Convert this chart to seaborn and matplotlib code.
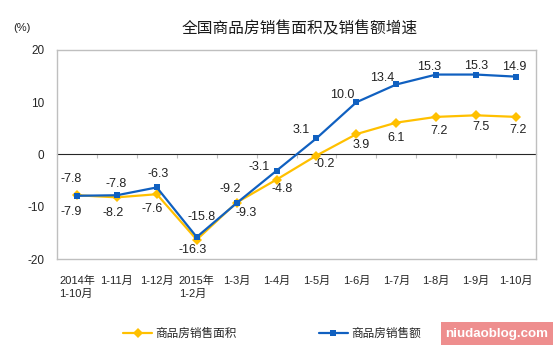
import numpy as np
import pandas as pd
import matplotlib.pyplot as plt
import seaborn as sns
from matplotlib.patches import Rectangle

periods = ["2014年\n1-10月", "1-11月", "1-12月", "2015年\n1-2月", "1-3月", "1-4月",
           "1-5月", "1-6月", "1-7月", "1-8月", "1-9月", "1-10月"]
area_growth = [-7.8, -8.2, -7.6, -16.3, -9.2, -4.8, -0.2, 3.9, 6.1, 7.2, 7.5, 7.2]
sales_growth = [-7.9, -7.8, -6.3, -15.8, -9.3, -3.1, 3.1, 10.0, 13.4, 15.3, 15.3, 14.9]
series_names = ["商品房销售面积", "商品房销售额"]
y_ticks = [-20, -10, 0, 10, 20]

YELLOW = "#FFC000"
BLUE = "#1060C0"
GRID = "#BFBFBF"

# hand-placed label nudges (pixels) as in the original: upper / lower label per period
UPPER_NUDGE = [(-6, 16), (-1, 11), (1, 13), (5, 20), (-6, 14), (-17, 4),
               (-15, 8), (-14, 7), (-14, 6), (-7, 8), (0, 9), (-2, 10)]
LOWER_NUDGE = [(-6, 16), (-4, 16), (-5, 15), (-4, 10), (10, 10), (6, 9),
               (8, 8), (5, 11), (0, 15), (3, 14), (5, 12), (2, 13)]

sns.set_style("white")
plt.rcParams["font.family"] = ["Liberation Sans", "Noto Sans CJK SC", "DejaVu Sans"]

x = np.arange(len(periods))
df = pd.DataFrame({
    "x": np.concatenate([x, x]),
    "value": area_growth + sales_growth,
    "series": [series_names[0]] * len(x) + [series_names[1]] * len(x),
})

fig = plt.figure(figsize=(5.58, 3.51), dpi=100)
ax = fig.add_axes([57 / 558, 1 - 259 / 351, 479 / 558, 209 / 351])

sns.lineplot(data=df, x="x", y="value", hue="series", style="series",
             palette={series_names[0]: YELLOW, series_names[1]: BLUE},
             markers={series_names[0]: "D", series_names[1]: "s"},
             dashes=False, linewidth=1.6, markersize=5, markeredgewidth=0,
             ax=ax, legend=True)

ax.set_xlim(-0.5, len(periods) - 0.5)
ax.set_ylim(-20, 20)
ax.set_yticks(y_ticks)
ax.set_yticklabels([str(t) for t in y_ticks], fontsize=8.5)
ax.set_xticks(x)
ax.set_xticklabels(periods, fontsize=8, ha="center", multialignment="left",
                   linespacing=1.3)
ax.tick_params(axis="x", length=0, pad=12)
ax.tick_params(axis="y", length=3, width=0.8, color=GRID, direction="out", pad=6)
ax.set_xlabel("")
ax.set_ylabel("")
for s in ax.spines.values():
    s.set_color(GRID)
    s.set_linewidth(1)

# zero line with category separators
zero = ax.secondary_xaxis(0.5)
zero.set_xticks(x[:-1] + 0.5)
zero.tick_params(direction="in", length=3, color=GRID, labelbottom=False)
zero.spines["bottom"].set_color(GRID)
zero.set_xticklabels([])

# value labels: higher value above, lower below
for i in range(len(x)):
    a, s = area_growth[i], sales_growth[i]
    hi, lo = (a, s) if a >= s else (s, a)
    ux, uy = UPPER_NUDGE[i]
    lx, ly = LOWER_NUDGE[i]
    ax.annotate(f"{hi:.1f}", (x[i], hi), xytext=(ux, uy), textcoords="offset pixels",
                ha="center", va="center", fontsize=9, color="#222222")
    ax.annotate(f"{lo:.1f}", (x[i], lo), xytext=(lx, -ly), textcoords="offset pixels",
                ha="center", va="center", fontsize=9, color="#222222")

ax.get_legend().remove()
handles, labels = ax.get_legend_handles_labels()
fig.legend(handles, labels, loc="center", bbox_to_anchor=(272 / 558, 1 - 334 / 351),
           ncol=2, frameon=False, fontsize=8.4, handlelength=2.5, handletextpad=0.3,
           columnspacing=7)

fig.text(300 / 558, 1 - 29 / 351, "全国商品房销售面积及销售额增速", ha="center", va="center",
         fontsize=11.3, color="#1a1a1a")
fig.text(13 / 558, 1 - 28 / 351, "(%)", ha="left", va="center", fontsize=8, color="#222222")

# watermark
fig.patches.append(Rectangle((441 / 558, 1 - 345 / 351), 112 / 558, 23 / 351,
                             transform=fig.transFigure, facecolor="#EE8E8E",
                             edgecolor="none"))
fig.text(497 / 558, 1 - 333.5 / 351, "niudaoblog.com", ha="center", va="center",
         fontsize=9.6, color="white", fontweight="bold")

fig.savefig("out.png", dpi=100)
